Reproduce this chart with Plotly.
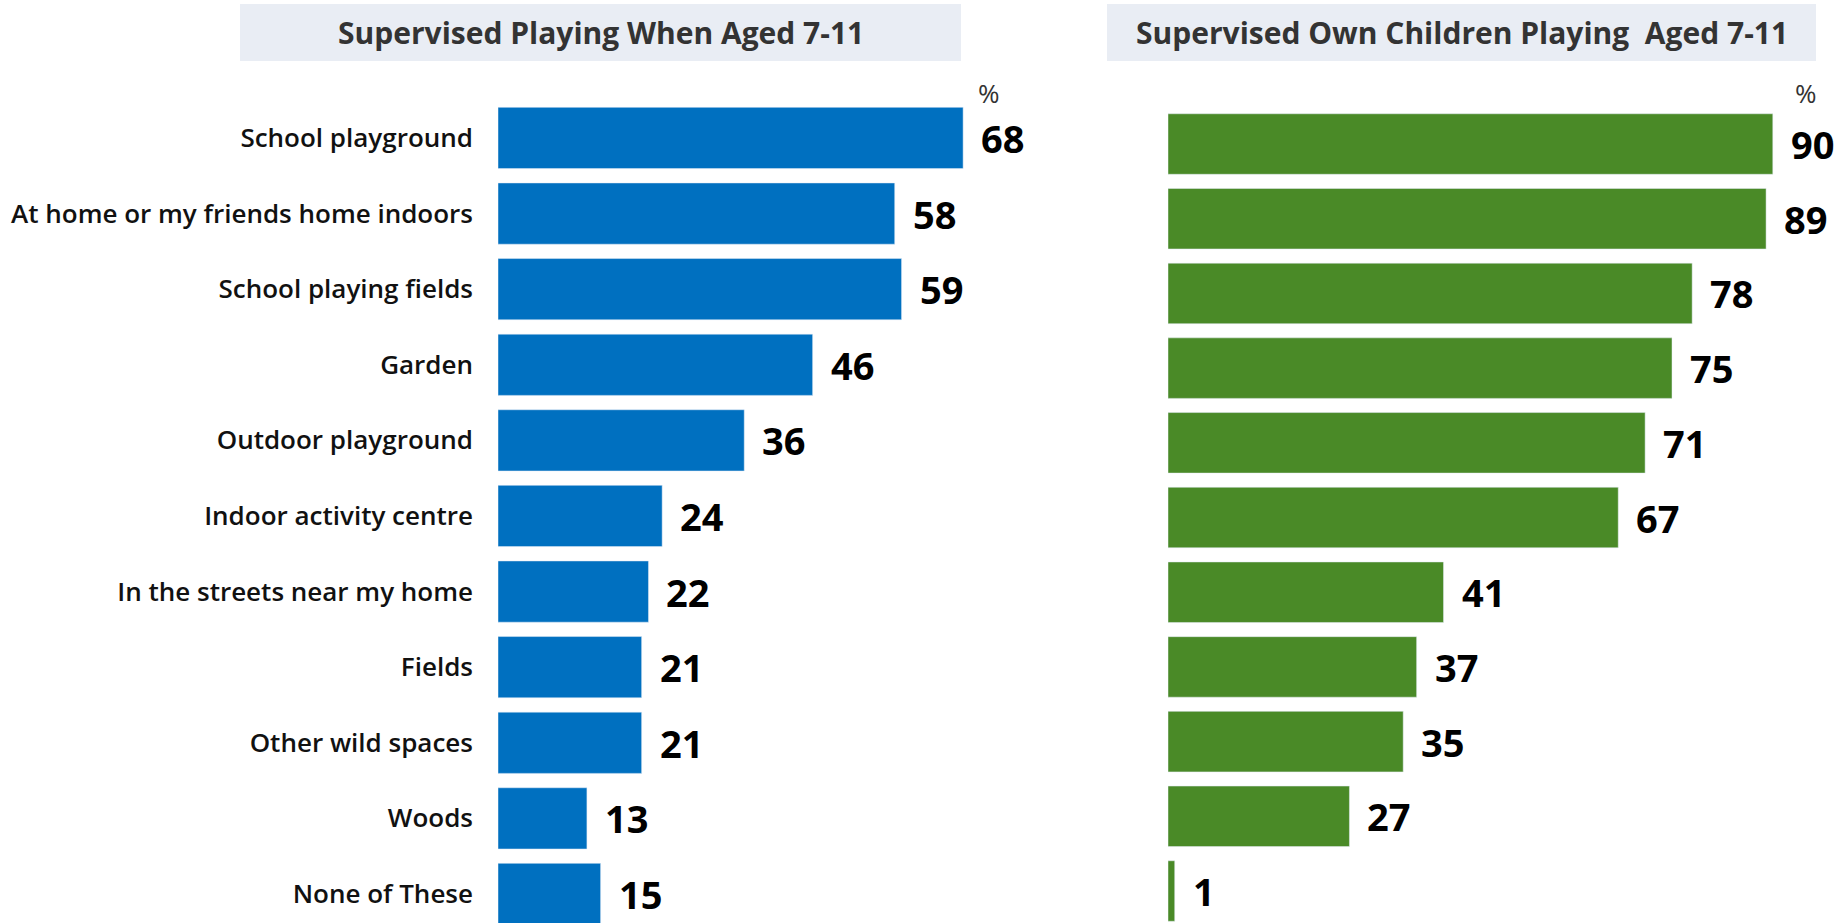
import plotly.graph_objects as go

# ---- data ----
left_title = "Supervised Playing When Aged 7-11"
right_title = "Supervised Own Children Playing  Aged 7-11"
categories = [
    "School playground",
    "At home or my friends home indoors",
    "School playing fields",
    "Garden",
    "Outdoor playground",
    "Indoor activity centre",
    "In the streets near my home",
    "Fields",
    "Other wild spaces",
    "Woods",
    "None of These",
]
left_values = [68, 58, 59, 46, 36, 24, 22, 21, 21, 13, 15]
right_values = [90, 89, 78, 75, 71, 67, 41, 37, 35, 27, 1]

BLUE = "#0070C0"
GREEN = "#4A8A27"
FONT = "Open Sans"

W, H = 1837, 923

fig = go.Figure()
fig.add_trace(go.Bar(
    x=left_values, y=categories, orientation="h", marker_color=BLUE,
    width=0.81, xaxis="x", yaxis="y", hoverinfo="skip", showlegend=False,
))
fig.add_trace(go.Bar(
    x=right_values, y=categories, orientation="h", marker_color=GREEN,
    width=0.81, xaxis="x2", yaxis="y2", hoverinfo="skip", showlegend=False,
))

VAL_FONT = dict(family=FONT, size=38, color="#000000", weight="bold")
annotations = []
for c, v in zip(categories, left_values):
    annotations.append(dict(x=v, y=c, xref="x", yref="y", text=str(v), showarrow=False,
                            xanchor="left", xshift=16, font=VAL_FONT))
for c, v in zip(categories, right_values):
    annotations.append(dict(x=v, y=c, xref="x2", yref="y2", text=str(v), showarrow=False,
                            xanchor="left", xshift=16, font=VAL_FONT))

TITLE_FONT = dict(family=FONT, size=30, color="#333333", weight="bold")
annotations.append(dict(x=(240 + 961) / 2 / W, y=1 - 32 / H, xref="paper", yref="paper",
                        text=left_title, showarrow=False, xanchor="center", yanchor="middle",
                        font=TITLE_FONT))
annotations.append(dict(x=(1107 + 1816) / 2 / W, y=1 - 32 / H, xref="paper", yref="paper",
                        text=right_title, showarrow=False, xanchor="center", yanchor="middle",
                        font=TITLE_FONT))
PCT_FONT = dict(family=FONT, size=26, color="#333333")
annotations.append(dict(x=989 / W, y=1 - 93 / H, xref="paper", yref="paper", text="%",
                        showarrow=False, xanchor="center", yanchor="middle", font=PCT_FONT))
annotations.append(dict(x=1806 / W, y=1 - 93 / H, xref="paper", yref="paper", text="%",
                        showarrow=False, xanchor="center", yanchor="middle", font=PCT_FONT))

shapes = [
    dict(type="rect", xref="paper", yref="paper", x0=240 / W, x1=961 / W,
         y0=1 - 61 / H, y1=1 - 4 / H, fillcolor="#E9EDF4", line=dict(width=0), layer="below"),
    dict(type="rect", xref="paper", yref="paper", x0=1107 / W, x1=1816 / W,
         y0=1 - 61 / H, y1=1 - 4 / H, fillcolor="#E9EDF4", line=dict(width=0), layer="below"),
]

top_dom = 1 - 62 / H
fig.update_layout(
    width=W, height=H,
    margin=dict(l=0, r=0, t=0, b=0),
    paper_bgcolor="white", plot_bgcolor="white",
    font=dict(family=FONT, color="#000000"),
    xaxis=dict(domain=[498 / W, 1030 / W], range=[0, 532 / 6.84], visible=False, fixedrange=True),
    yaxis=dict(domain=[0, top_dom], anchor="x", type="category",
               range=[10.384, -1.005], showgrid=False, zeroline=False, showline=False,
               ticks="", ticklabelstandoff=24,
               tickfont=dict(family=FONT, size=26, color="#111111", weight=600)),
    xaxis2=dict(domain=[1168 / W, 1.0], range=[0, 669 / 6.72], visible=False, fixedrange=True,
                anchor="y2"),
    yaxis2=dict(domain=[0, top_dom], anchor="x2", type="category",
                range=[10.428, -1.098], showgrid=False, zeroline=False, showline=False,
                showticklabels=False, ticks=""),
    annotations=annotations,
    shapes=shapes,
)

fig.write_html(
    "out.html",
    config={"displayModeBar": False},
    post_script="document.body.style.margin='0';document.body.style.overflow='hidden';",
)
